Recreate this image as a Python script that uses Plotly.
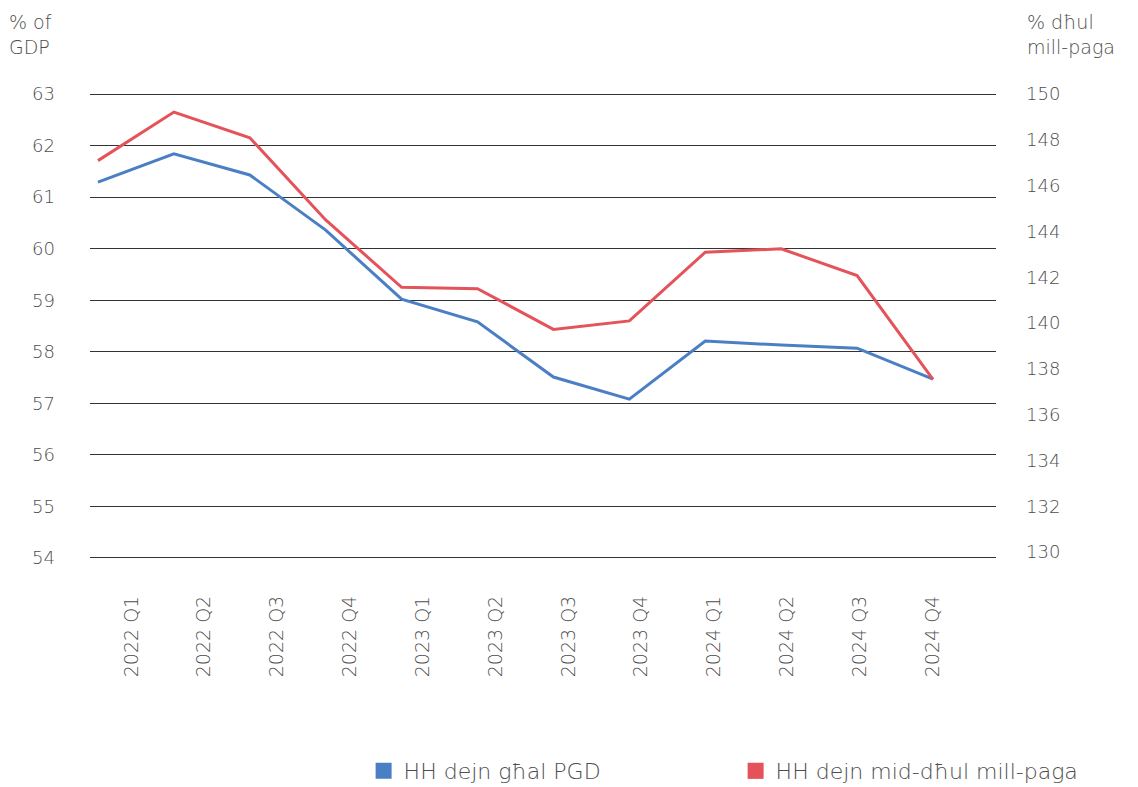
import plotly.graph_objects as go

quarters = ["2022 Q1", "2022 Q2", "2022 Q3", "2022 Q4",
            "2023 Q1", "2023 Q2", "2023 Q3", "2023 Q4",
            "2024 Q1", "2024 Q2", "2024 Q3", "2024 Q4"]
debt_gdp = [61.29, 61.84, 61.43, 60.36, 59.02, 58.58, 57.51, 57.08, 58.21, 58.13, 58.07, 57.47]
debt_income = [147.09, 149.21, 148.09, 144.50, 141.56, 141.50, 139.72, 140.09, 143.09, 143.24, 142.07, 137.54]
left_ticks = [54, 55, 56, 57, 58, 59, 60, 61, 62, 63]
right_ticks = [130, 132, 134, 136, 138, 140, 142, 144, 146, 148, 150]
name_gdp = "HH dejn għal PGD"
name_income = "HH dejn mid-dħul mill-paga"
title_left = "% of<br>GDP"
title_right = "% dħul<br>mill-paga"

BLUE = "#4A7FC4"
RED = "#E4535A"
TXT = "#4d4d4d"
FONT = "DejaVu Sans"

fig = go.Figure()
fig.add_trace(go.Scatter(x=quarters, y=debt_gdp, mode="lines", name=name_gdp,
                         line=dict(color=BLUE, width=3), showlegend=False,
                         xaxis="x", yaxis="y"))
fig.add_trace(go.Scatter(x=quarters, y=debt_income, mode="lines", name=name_income,
                         line=dict(color=RED, width=3), showlegend=False,
                         xaxis="x", yaxis="y2"))
# label-only axis carrier
fig.add_trace(go.Scatter(x=quarters, y=[None] * len(quarters), mode="lines",
                         showlegend=False, hoverinfo="skip", xaxis="x2", yaxis="y"))
# legend entries as squares
fig.add_trace(go.Scatter(x=[None], y=[None], mode="markers", name=name_gdp,
                         marker=dict(symbol="square", color=BLUE, size=20)))
fig.add_trace(go.Scatter(x=[None], y=[None], mode="markers", name=name_income,
                         marker=dict(symbol="square", color=RED, size=20)))

# page body has an 8px margin; plot area lands at x 90..996, y 92..560
fig.update_layout(
    width=1138, height=787,
    margin=dict(l=82, r=150, t=84, b=235, autoexpand=False),
    paper_bgcolor="white", plot_bgcolor="white",
    font=dict(family=FONT, size=18, color=TXT, weight=300),
    xaxis=dict(type="category", range=[-0.105, 11.83], showticklabels=False,
               showgrid=False, zeroline=False, showline=False, ticks="",
               automargin=False),
    xaxis2=dict(type="category", range=[-0.569, 11.87], overlaying="x",
                side="bottom", anchor="y", showgrid=False, zeroline=False,
                showline=False, ticks="", tickangle=-90, automargin=False,
                ticklabelstandoff=31, tickfont=dict(size=19, color=TXT)),
    yaxis=dict(range=[53.961, 63.039], tickvals=left_ticks, showgrid=True,
               gridcolor="#333333", gridwidth=1.3, zeroline=False,
               showline=False, ticks="", ticklabelstandoff=34, automargin=False,
               tickfont=dict(size=18, color=TXT)),
    yaxis2=dict(range=[129.65, 150.087], tickvals=right_ticks, overlaying="y",
                side="right", showgrid=False, zeroline=False, showline=False,
                ticks="", ticklabelstandoff=29, automargin=False,
                tickfont=dict(size=18, color=TXT)),
    legend=dict(orientation="h", x=0.302, xanchor="left", y=-0.451,
                yanchor="middle", entrywidth=327, entrywidthmode="pixels",
                font=dict(size=22, color=TXT), itemsizing="trace",
                bgcolor="rgba(0,0,0,0)"),
    annotations=[
        dict(text=title_left, xref="paper", yref="paper", x=-0.0915, y=1.122,
             xanchor="left", yanchor="middle", showarrow=False, align="left",
             font=dict(size=19, color=TXT)),
        dict(text=title_right, xref="paper", yref="paper", x=1.0315, y=1.122,
             xanchor="left", yanchor="middle", showarrow=False, align="left",
             font=dict(size=19, color=TXT)),
    ],
)

fig.write_html("out.html")
